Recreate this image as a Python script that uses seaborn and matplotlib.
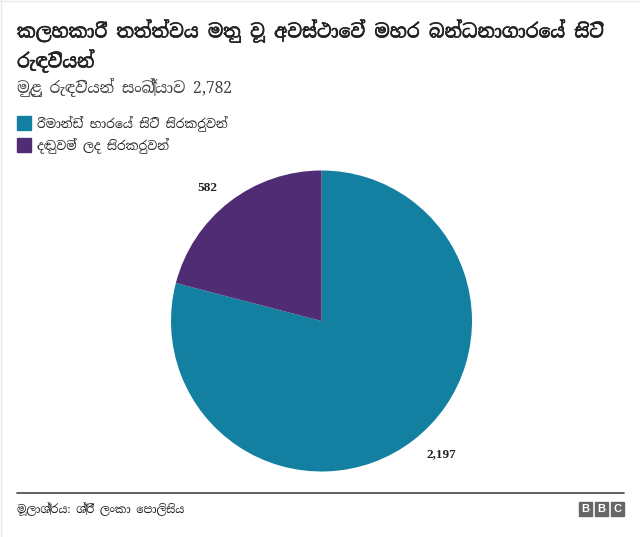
import re
import matplotlib
matplotlib.use("Agg")
import matplotlib.pyplot as plt
import matplotlib.patches as mpatches
import matplotlib.patheffects as pe
import seaborn as sns

categories = ["රිමාන්ඩ් භාරයේ සිටි සිරකරුවන්", "දඬුවම් ලද සිරකරුවන්"]
values = [2197, 582]
value_labels = ["2,197", "582"]
colors = ["#1380A1", "#4F2C73"]

title = "කලහකාරී තත්ත්වය මතු වූ අවස්ථාවේ මහර බන්ධනාගාරයේ සිටි\nරැඳවියන්"
subtitle = "මුළු රැඳවියන් සංඛ්‍යාව 2,782"
source = "මූලාශ්‍රය: ශ්‍රී ලංකා පොලිසිය"


# matplotlib has no text shaping, so the vowel signs that sit left of the
# consonant have to be put there by hand
def visual_order(s):
    s = re.sub("([\u0d9a-\u0dc6])\u0dda", "\u0dd9\\1\u0dca", s)
    s = re.sub("([\u0d9a-\u0dc6])\u0ddc", "\u0dd9\\1\u0dcf", s)
    return s


sns.set_theme(style="white")
plt.rcParams["font.family"] = ["Noto Serif Sinhala", "Liberation Serif", "DejaVu Sans"]

W, H = 640, 537
fig = plt.figure(figsize=(W / 100, H / 100), dpi=100)
fig.patch.set_facecolor("white")
heavy = [pe.withStroke(linewidth=0.45, foreground="#222222")]

# ── pie ──
ax = fig.add_axes([171 / W, 1 - 471.5 / H, 301 / W, 301 / H])
ax.pie(values, colors=colors, startangle=90, counterclock=False, radius=1,
       wedgeprops=dict(edgecolor="none", linewidth=0))
ax.set_xlim(-1, 1)
ax.set_ylim(-1, 1)
ax.text(0.794, -0.887, value_labels[0], fontsize=9.5, fontweight="bold", family="Liberation Serif",
        ha="center", va="center", color="#222222")
ax.text(-0.76, 0.887, value_labels[1], fontsize=9.5, fontweight="bold", family="Liberation Serif",
        ha="center", va="center", color="#222222")

# ── header ──
fig.text(17 / W, 1 - 46 / H, visual_order(title), fontsize=13.4, va="center", linespacing=1.4,
         color="#222222", path_effects=heavy)
fig.text(17 / W, 1 - 88 / H, subtitle, fontsize=11.2, color="#404040", va="center")

# ── legend ──
for i, (lab, col) in enumerate(zip(categories, colors)):
    y = 116 + i * 22
    fig.add_artist(mpatches.Rectangle((17 / W, 1 - (y + 14) / H), 14 / W, 14 / H, transform=fig.transFigure, color=col))
    fig.text(37 / W, 1 - (y + 8) / H, visual_order(lab), fontsize=9.1, va="center", color="#222222")

# ── footer ──
fig.add_artist(plt.Line2D([17 / W, 624 / W], [1 - 493 / H, 1 - 493 / H], color="#444444", lw=1.2))
fig.text(17 / W, 1 - 509 / H, visual_order(source), fontsize=8.2, va="center", color="#222222")

for i, ch in enumerate("BBC"):
    x = 579 + i * 16
    fig.add_artist(mpatches.Rectangle((x / W, 1 - 516 / H), 13 / W, 14 / H, transform=fig.transFigure, color="#666666"))
    fig.text((x + 6.5) / W, 1 - 509 / H, ch, fontsize=8, fontweight="bold", family="Liberation Sans",
             color="white", ha="center", va="center")

# faint screenshot edge on the left and top
fig.add_artist(plt.Line2D([0.5 / W, 0.5 / W], [0, 1], color="#e8e8e8", lw=1))
fig.add_artist(plt.Line2D([0, 1], [1 - 0.5 / H, 1 - 0.5 / H], color="#e8e8e8", lw=1))

fig.savefig("out.png", dpi=100)
